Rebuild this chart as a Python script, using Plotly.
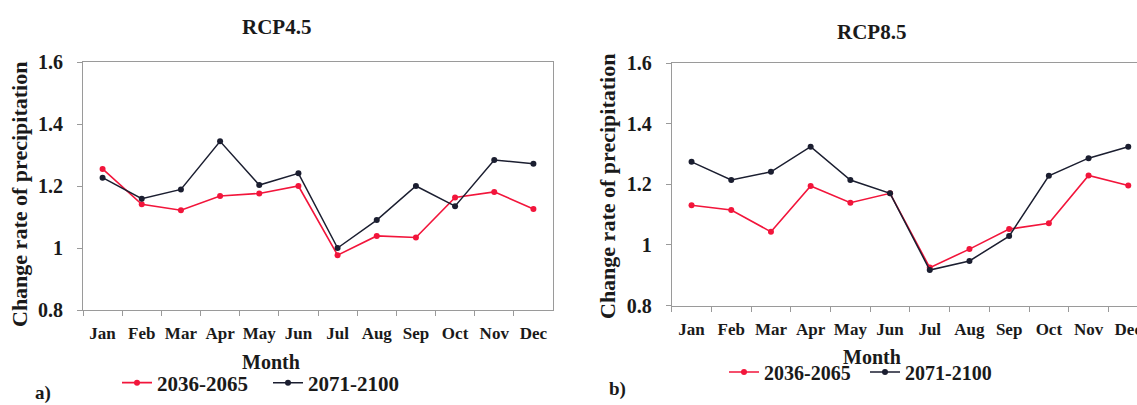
import plotly.graph_objects as go

months = ["Jan", "Feb", "Mar", "Apr", "May", "Jun", "Jul", "Aug", "Sep", "Oct", "Nov", "Dec"]
series_names = ["2036-2065", "2071-2100"]

rcp45_2036_2065 = [1.255, 1.141, 1.122, 1.168, 1.176, 1.200, 0.977, 1.039, 1.034, 1.163, 1.181, 1.126]
rcp45_2071_2100 = [1.227, 1.159, 1.189, 1.344, 1.203, 1.241, 1.000, 1.090, 1.200, 1.135, 1.284, 1.272]
rcp85_2036_2065 = [1.131, 1.115, 1.043, 1.194, 1.139, 1.170, 0.925, 0.986, 1.052, 1.071, 1.229, 1.196]
rcp85_2071_2100 = [1.274, 1.214, 1.241, 1.324, 1.214, 1.170, 0.917, 0.947, 1.029, 1.228, 1.286, 1.324]

y_ticks = [0.8, 1.0, 1.2, 1.4, 1.6]
y_ticktext = ["0.8", "1", "1.2", "1.4", "1.6"]

W, H = 1137, 405
RED = "#f2153b"
DARK = "#1b1e30"
AXIS = "#9a9a9a"
TXT = "#1a1a1a"
FONT = "Liberation Serif"


def px(x):
    return x / W


def py(y):
    return 1 - y / H


fig = go.Figure()

for xa, ya, d1, d2, lg in [("x", "y", rcp45_2036_2065, rcp45_2071_2100, "legend"),
                           ("x2", "y2", rcp85_2036_2065, rcp85_2071_2100, "legend2")]:
    fig.add_trace(go.Scatter(x=months, y=d1, name=series_names[0], mode="lines+markers",
                             line=dict(color=RED, width=1.6), marker=dict(color=RED, size=6),
                             xaxis=xa, yaxis=ya, legend=lg))
    fig.add_trace(go.Scatter(x=months, y=d2, name=series_names[1], mode="lines+markers",
                             line=dict(color=DARK, width=1.5), marker=dict(color=DARK, size=6),
                             xaxis=xa, yaxis=ya, legend=lg))

xcommon = dict(type="category", categoryorder="array", categoryarray=months,
               showline=True, linecolor=AXIS, linewidth=1, mirror=True,
               ticks="outside", tickson="boundaries", ticklen=5, tickcolor=AXIS,
               tickangle=0, showgrid=False, zeroline=False, automargin=False,
               tickfont=dict(family=FONT, size=17, weight="bold", color=TXT),
               ticklabelstandoff=8)
ycommon = dict(range=[0.8, 1.6], tickvals=y_ticks, ticktext=y_ticktext,
               showline=True, linecolor=AXIS, linewidth=1, automargin=False,
               ticks="outside", ticklen=5, tickcolor=AXIS, showgrid=False, zeroline=False,
               tickfont=dict(family=FONT, size=20, weight="bold", color=TXT),
               ticklabelstandoff=10)

left_x0, left_x1 = 83, 553
right_x0 = 671.7
cat_w_right = 39.7
right_range_end = -0.5 + (W - right_x0) / cat_w_right

fig.update_layout(
    width=W, height=H,
    margin=dict(l=0, r=0, t=0, b=0, autoexpand=False),
    paper_bgcolor="white", plot_bgcolor="white",
    xaxis=dict(xcommon, domain=[px(left_x0), px(left_x1)], anchor="y", range=[-0.5, 11.5]),
    yaxis=dict(ycommon, domain=[py(310), py(62)], anchor="x", mirror=True),
    xaxis2=dict(xcommon, domain=[px(right_x0), 1.0], anchor="y2", range=[-0.5, right_range_end]),
    yaxis2=dict(ycommon, domain=[py(305.5), py(63)], anchor="x2", mirror=False),
    legend=dict(orientation="h", x=px(117), xanchor="left", y=py(383), yanchor="middle",
                font=dict(family=FONT, size=21, weight="bold", color=TXT),
                bgcolor="rgba(0,0,0,0)", entrywidth=106, entrywidthmode="pixels",
                itemwidth=30, tracegroupgap=0),
    legend2=dict(orientation="h", x=px(724), xanchor="left", y=py(372), yanchor="middle",
                 font=dict(family=FONT, size=20, weight="bold", color=TXT),
                 bgcolor="rgba(0,0,0,0)", entrywidth=96, entrywidthmode="pixels",
                 itemwidth=30, tracegroupgap=0),
    showlegend=True,
)

annotations = [
    dict(text="RCP4.5", x=px(276), y=py(27), size=21),
    dict(text="RCP8.5", x=px(871), y=py(32), size=21),
    dict(text="Change rate of precipitation", x=px(20), y=py(195), textangle=-90, size=22),
    dict(text="Change rate of precipitation", x=px(608), y=py(187), textangle=-90, size=22),
    dict(text="Month", x=px(271), y=py(362), size=20),
    dict(text="Month", x=px(872), y=py(357), size=20),
    dict(text="a)", x=px(43), y=py(393), size=19),
    dict(text="b)", x=px(617), y=py(389), size=19),
]
for a in annotations:
    size = a.pop("size")
    fig.add_annotation(**a, xref="paper", yref="paper", showarrow=False,
                       xanchor="center", yanchor="middle",
                       font=dict(family=FONT, size=size, weight="bold", color=TXT))

fig.write_html("out.html", config={"displayModeBar": False},
               post_script="document.body.style.margin='0';document.body.style.overflow='hidden';")
